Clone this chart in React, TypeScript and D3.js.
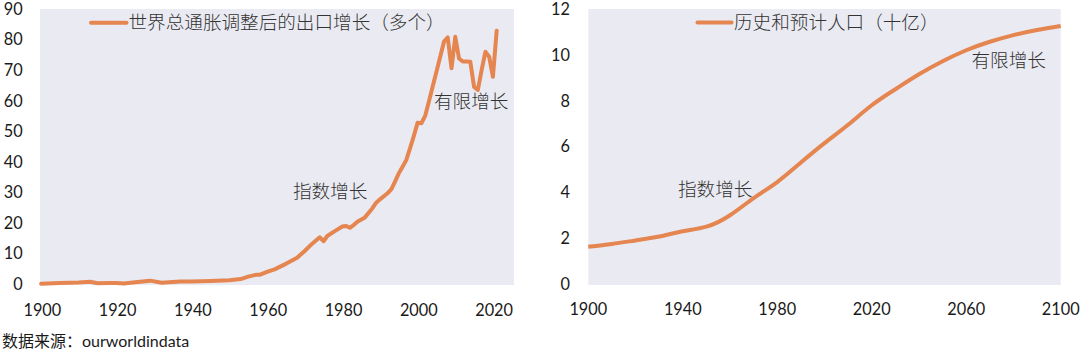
import React from "react";
import * as d3 from "d3";

const exportYears = [1900,1905,1910,1913,1915,1918,1920,1922,1925,1929,1932,1937,1940,1945,1950,1953,1955,1957,1958,1960,1962,1965,1968,1970,1972,1974,1975,1976,1978,1980,1981,1982,1983,1984,1986,1988,1989,1990,1992,1993,1994,1995,1996,1997,1998,1999,2000,2001,2002,2003,2004,2005,2006,2007,2008,2009,2010,2011,2012,2013,2014,2015,2016,2017,2018,2019,2020,2021];
const exportValues = [0.1,0.3,0.5,0.75,0.25,0.3,0.35,0.15,0.6,1.1,0.4,0.85,0.8,1.0,1.2,1.6,2.4,3.0,3.0,4.0,4.8,6.6,8.6,10.8,13.2,15.3,14.0,15.7,17.3,18.8,19.0,18.4,19.3,20.4,21.8,24.8,26.6,27.7,29.7,31.0,33.5,36.2,38.4,40.6,44.5,48.5,52.8,52.6,55.0,59.7,64.6,69.5,74.4,79.3,80.7,70.6,80.9,73.8,72.8,72.8,72.7,64.5,63.5,70.0,76.0,74.4,67.8,82.9];

const popYears = [1900,1910,1920,1930,1940,1950,1960,1970,1980,1990,2000,2010,2020,2030,2040,2050,2060,2070,2080,2090,2100];
const popValues = [1.63,1.75,1.9,2.07,2.3,2.5,3.0,3.75,4.45,5.3,6.15,6.95,7.8,8.5,9.15,9.72,10.2,10.57,10.86,11.08,11.26];

const leftYTicks = [0,10,20,30,40,50,60,70,80,90];
const leftXTicks = [1900,1920,1940,1960,1980,2000,2020];
const rightYTicks = [0,2,4,6,8,10,12];
const rightXTicks = [1900,1940,1980,2020,2060,2100];

const leftLegend = "世界总通胀调整后的出口增长（多个）";
const rightLegend = "历史和预计人口（十亿）";
const expLabel = "指数增长";
const limLabel = "有限增长";
const sourceText = "数据来源：ourworldindata";

const LINE = "#E5854F";
const BG = "#EAEAF2";
const TICK_FONT = "Lato, 'Noto Sans CJK SC', sans-serif";
const CJK_FONT = "'Noto Sans CJK SC', sans-serif";

export default function App() {
  const top = 9, bottom = 285;
  const lx = d3.scaleLinear().domain([1899.7, 2025.6]).range([40, 514]);
  const ly = d3.scaleLinear().domain([0, 90]).range([284, 9]);
  const rx = d3.scaleLinear().domain([1900, 2100]).range([588.3, 1060.7]);
  const ry = d3.scaleLinear().domain([0, 12]).range([284, 9]);

  const leftLine = d3.line<number>()
    .x((_, i) => lx(exportYears[i]))
    .y((d) => ly(d))
    .curve(d3.curveLinear)(exportValues) || "";
  const rightLine = d3.line<number>()
    .x((_, i) => rx(popYears[i]))
    .y((d) => ry(d))
    .curve(d3.curveNatural)(popValues) || "";

  const tickStyle = { fontFamily: TICK_FONT, fontSize: 16.3, fill: "#1a1a1a" };
  const cjkStyle = { fontFamily: CJK_FONT, fontSize: 18.6, fill: "#333", fontWeight: 300 };

  return (
    <div style={{ position: "fixed", left: 0, top: 0 }}>
      <svg width={1080} height={351} style={{ display: "block", background: "#fff" }}>
        {/* Left chart */}
        <rect x={40} y={top} width={474} height={bottom - top} fill={BG} />
        {leftYTicks.map((t) => (
          <text key={"ly" + t} x={22.7} y={ly(t)} dy="0.36em" textAnchor="end" {...tickStyle}>{t}</text>
        ))}
        {leftXTicks.map((t) => (
          <text key={"lx" + t} x={lx(t) + 1.2} y={310} dy="0.36em" textAnchor="middle" {...tickStyle}>{t}</text>
        ))}
        <path d={leftLine} fill="none" stroke={LINE} strokeWidth={4} strokeLinejoin="round" strokeLinecap="round" />
        <line x1={91} x2={126.5} y1={22.7} y2={22.7} stroke={LINE} strokeWidth={4} strokeLinecap="round" />
        <text x={128.5} y={22.7} dy="0.36em" {...cjkStyle}>{leftLegend}</text>
        <text x={293} y={191.7} dy="0.36em" {...cjkStyle}>{expLabel}</text>
        <text x={434} y={101} dy="0.36em" {...cjkStyle}>{limLabel}</text>

        {/* Right chart */}
        <rect x={588.3} y={top} width={472.4} height={bottom - top} fill={BG} />
        {rightYTicks.map((t) => (
          <text key={"ry" + t} x={570} y={ry(t)} dy="0.36em" textAnchor="end" {...tickStyle}>{t}</text>
        ))}
        {rightXTicks.map((t) => (
          <text key={"rx" + t} x={rx(t)} y={309.5} dy="0.36em" textAnchor="middle" {...tickStyle}>{t}</text>
        ))}
        <path d={rightLine} fill="none" stroke={LINE} strokeWidth={4} strokeLinejoin="round" />
        <line x1={697.5} x2={731.5} y1={22.5} y2={22.5} stroke={LINE} strokeWidth={4} strokeLinecap="round" />
        <text x={734} y={22.5} dy="0.36em" {...cjkStyle}>{rightLegend}</text>
        <text x={678} y={189.3} dy="0.36em" {...cjkStyle}>{expLabel}</text>
        <text x={971.5} y={60.7} dy="0.36em" {...cjkStyle}>{limLabel}</text>

        {/* Source */}
        <text x={2} y={341.5} dy="0.36em" fontFamily={TICK_FONT} fontSize={16} fill="#1a1a1a">{sourceText}</text>
      </svg>
    </div>
  );
}
